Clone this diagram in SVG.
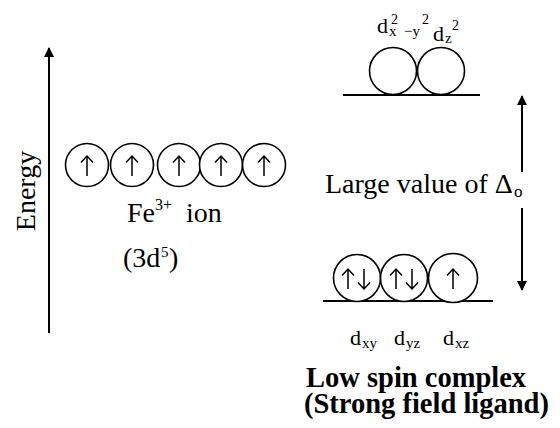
<svg xmlns="http://www.w3.org/2000/svg" width="560" height="428" viewBox="0 0 560 428" font-family="'Liberation Serif', 'DejaVu Serif', serif">
<defs>
<style>
text{font-family:'Liberation Serif','DejaVu Serif',serif;fill:#000}
.m{font-size:28px}
.b{font-size:28.5px;font-weight:bold}
.l{font-size:22px}
.s{font-size:15px}
.p{font-size:14px}
.orb{fill:#fff;stroke:#000;stroke-width:1.6}
.lvl{stroke:#000;stroke-width:1.8}
.sp{stroke:#000;stroke-width:1.5;fill:none}
.ax{stroke:#000;stroke-width:2}
</style>
<marker id="ah" markerWidth="10" markerHeight="10" refX="9" refY="5" orient="auto" markerUnits="userSpaceOnUse">
<path d="M0,0 L10,5 L0,10 Z" fill="#000"/>
</marker>
<g id="up"><path class="sp" d="M0,10 V-10 M-6,-3.5 L0,-10 L6,-3.5"/></g>
<g id="dn"><path class="sp" d="M0,-10 V10 M-6,3.5 L0,10 L6,3.5"/></g>
</defs>

<g id="connectors">
<line class="ax" x1="49" y1="333" x2="49" y2="48" marker-end="url(#ah)"/>
<line class="ax" x1="522" y1="172" x2="522" y2="96" marker-end="url(#ah)"/>
<line class="ax" x1="522" y1="208" x2="522" y2="290" marker-end="url(#ah)"/>
</g>

<g id="energy-label">
<text class="m" text-anchor="middle" transform="translate(35,191) rotate(-90)">Energy</text>
</g>

<g id="fe-ion">
<circle class="orb" cx="87" cy="165" r="21.5"/>
<circle class="orb" cx="132" cy="165" r="21.5"/>
<circle class="orb" cx="179" cy="165" r="21.5"/>
<circle class="orb" cx="221" cy="165" r="21.5"/>
<circle class="orb" cx="264" cy="165" r="21.5"/>
<use href="#up" x="87" y="166"/>
<use href="#up" x="132" y="166"/>
<use href="#up" x="179" y="166"/>
<use href="#up" x="221" y="166"/>
<use href="#up" x="264" y="166"/>
<text class="m" x="127" y="222">Fe</text>
<text style="font-size:16px" x="155" y="210">3+</text>
<text class="m" x="186" y="222">ion</text>
<text class="m" x="123" y="267">(3d</text>
<text style="font-size:15px" x="161" y="257">5</text>
<text class="m" x="169" y="267">)</text>
</g>

<g id="eg">
<line class="lvl" x1="343" y1="95" x2="480" y2="95"/>
<circle class="orb" cx="393" cy="71" r="23.5"/>
<circle class="orb" cx="441" cy="71" r="23.5"/>
<text class="l" x="377" y="33">d</text>
<text class="s" x="389" y="36">x</text>
<text class="p" x="391" y="24">2</text>
<text class="s" x="404" y="36">−y</text>
<text class="p" x="422" y="24">2</text>
<text class="l" x="433" y="41">d</text>
<text class="s" x="445" y="43">z</text>
<text class="p" x="452" y="30">2</text>
</g>

<g id="delta-label">
<text class="m" x="325" y="193">Large value of Δ</text>
<text style="font-size:17px" x="514" y="197">o</text>
</g>

<g id="t2g">
<line class="lvl" x1="323" y1="301" x2="493" y2="301"/>
<circle class="orb" cx="357" cy="278" r="23.5"/>
<circle class="orb" cx="404" cy="278" r="23.5"/>
<circle class="orb" cx="453" cy="278" r="24.5"/>
<use href="#up" x="348" y="279"/>
<use href="#dn" x="364" y="279"/>
<use href="#up" x="396" y="279"/>
<use href="#dn" x="412" y="279"/>
<use href="#up" x="453" y="279"/>
<text class="l" x="350" y="345">d</text>
<text class="s" x="362" y="348">xy</text>
<text class="l" x="394" y="345">d</text>
<text class="s" x="406" y="348">yz</text>
<text class="l" x="443" y="345">d</text>
<text class="s" x="455" y="348">xz</text>
</g>

<g id="caption">
<text class="b" x="306" y="387">Low spin complex</text>
<text class="b" x="304" y="413">(Strong field ligand)</text>
</g>
</svg>
